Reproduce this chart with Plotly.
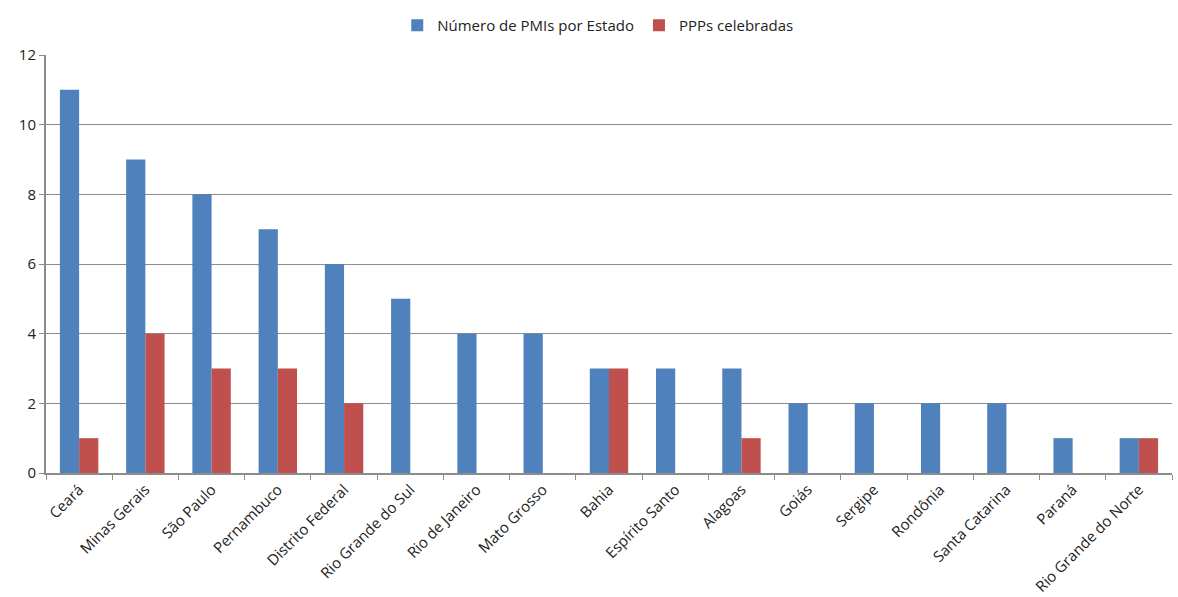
import plotly.graph_objects as go

estados = ["Ceará", "Minas Gerais", "São Paulo", "Pernambuco", "Distrito Federal",
           "Rio Grande do Sul", "Rio de Janeiro", "Mato Grosso", "Bahia", "Espírito Santo",
           "Alagoas", "Goiás", "Sergipe", "Rondônia", "Santa Catarina", "Paraná",
           "Rio Grande do Norte"]
pmis = [11, 9, 8, 7, 6, 5, 4, 4, 3, 3, 3, 2, 2, 2, 2, 1, 1]
ppps = [1, 4, 3, 3, 2, 0, 0, 0, 3, 0, 1, 0, 0, 0, 0, 0, 1]
y_ticks = [0, 2, 4, 6, 8, 10, 12]

font = "Open Sans, Liberation Sans, sans-serif"

fig = go.Figure()
fig.add_trace(go.Bar(x=estados, y=pmis, name="Número de PMIs por Estado",
                     marker=dict(color="#4F81BD", line=dict(width=0))))
fig.add_trace(go.Bar(x=estados, y=ppps, name="PPPs celebradas",
                     marker=dict(color="#C0504D", line=dict(width=0))))

fig.update_layout(
    width=1178, height=597,
    barmode="group", bargap=0.42, bargroupgap=0,
    plot_bgcolor="white", paper_bgcolor="white",
    margin=dict(l=46, r=6, t=55, b=124, autoexpand=False),
    font=dict(family=font, size=15, color="#222"),
    legend=dict(orientation="h", x=0.49, xanchor="center", y=0.985, yanchor="top",
                yref="container", font=dict(size=15), itemwidth=30,
                traceorder="normal"),
    xaxis=dict(tickangle=-45, showline=True, linecolor="#8c8c8c", linewidth=2,
               ticks="outside", tickson="boundaries", ticklen=5, tickcolor="#8c8c8c",
               showgrid=False, tickfont=dict(size=15), automargin=False),
    yaxis=dict(range=[0, 12], tickvals=y_ticks, showline=True, linecolor="#8c8c8c",
               linewidth=2, ticks="outside", ticklen=5, tickcolor="#8c8c8c",
               showgrid=True, gridcolor="#8c8c8c", gridwidth=1, zeroline=False,
               tickfont=dict(size=15), automargin=False),
)

fig.write_html("out.html")
